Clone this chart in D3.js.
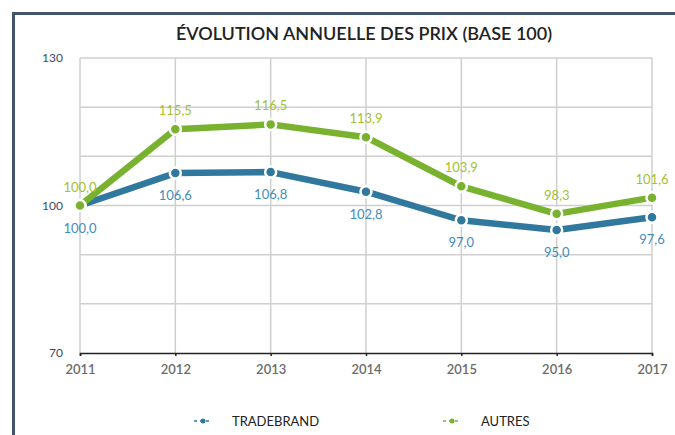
<!DOCTYPE html>
<html>
<head>
<meta charset="utf-8">
<script src="https://cdn.jsdelivr.net/npm/d3@7"></script>
<style>
  body { margin: 0; background: #ffffff; }
  svg { display: block; font-family: Lato, "Open Sans", sans-serif; }
</style>
</head>
<body>
<div id="chart"></div>
<script>
// Chart values.
var years = ["2011", "2012", "2013", "2014", "2015", "2016", "2017"];
var tradebrand = [100.0, 106.6, 106.8, 102.8, 97.0, 95.0, 97.6];
var autres = [100.0, 115.5, 116.5, 113.9, 103.9, 98.3, 101.6];
var yTicks = [70, 100, 130];
var seriesNames = ["TRADEBRAND", "AUTRES"];

var width = 675, height = 435;
var blue = "#31789e", blueLabel = "#3f8dbd";
var green = "#78b22f", greenLabel = "#a3c132";

var svg = d3.select("#chart").append("svg")
  .attr("width", width)
  .attr("height", height);

// 0. Frame (dark border top and left).
svg.append("path")
  .attr("d", "M13.5," + height + "V13.5H" + width)
  .attr("fill", "none")
  .attr("stroke", "#44546a")
  .attr("stroke-width", 3);

// 1. Title.
svg.append("text")
  .attr("x", 364)
  .attr("y", 40)
  .attr("text-anchor", "middle")
  .attr("font-size", 18)
  .attr("font-weight", 600)
  .attr("fill", "#222")
  .text("ÉVOLUTION ANNUELLE DES PRIX (BASE 100)");

// 2. Scales.
var xScale = d3.scalePoint().domain(years).range([80, 652]);
var yScale = d3.scaleLinear().domain([70, 130]).range([353, 58]);

// 3. Grid.
svg.append("g").selectAll("line").data(d3.range(80, 131, 10))
  .enter().append("line")
  .attr("x1", 80).attr("x2", 652)
  .attr("y1", function (d) { return yScale(d); })
  .attr("y2", function (d) { return yScale(d); })
  .attr("stroke", "#cfcfcf").attr("stroke-width", 1.5);
svg.append("g").selectAll("line").data(years)
  .enter().append("line")
  .attr("x1", function (d) { return xScale(d); })
  .attr("x2", function (d) { return xScale(d); })
  .attr("y1", 58).attr("y2", 353)
  .attr("stroke", "#cfcfcf").attr("stroke-width", 1.5);

// 4. Axes.
var xAxis = svg.append("g")
  .attr("transform", "translate(0,353)")
  .call(d3.axisBottom(xScale).tickSize(3).tickPadding(9));
xAxis.select(".domain").attr("stroke", "#222").attr("stroke-width", 1.5);
xAxis.selectAll(".tick line").attr("stroke", "#222").attr("stroke-width", 1.5);
xAxis.selectAll("text")
  .attr("font-size", 13).attr("font-weight", 600)
  .attr("font-family", "Lato, sans-serif").attr("fill", "#6b6b6b");

var yAxis = svg.append("g")
  .attr("transform", "translate(80,0)")
  .call(d3.axisLeft(yScale).tickValues(yTicks).tickSize(0).tickPadding(17));
yAxis.select(".domain").remove();
yAxis.selectAll("text")
  .attr("font-size", 12).attr("font-family", "Lato, sans-serif")
  .attr("fill", "#3b4a66");

// 5. Lines, markers and labels.
function drawSeries(values, color, labelColor, labelDy) {
  var pts = values.map(function (v, i) { return { year: years[i], value: v }; });
  var line = d3.line()
    .x(function (d) { return xScale(d.year); })
    .y(function (d) { return yScale(d.value); });
  svg.append("path").datum(pts)
    .attr("d", line)
    .attr("fill", "none")
    .attr("stroke", color)
    .attr("stroke-width", 6.5)
    .attr("stroke-linejoin", "round");
  svg.append("g").selectAll("circle").data(pts)
    .enter().append("circle")
    .attr("cx", function (d) { return xScale(d.year); })
    .attr("cy", function (d) { return yScale(d.value); })
    .attr("r", 5.5)
    .attr("fill", color)
    .attr("stroke", "#ffffff")
    .attr("stroke-width", 2.5);
  svg.append("g").selectAll("text").data(pts)
    .enter().append("text")
    .attr("x", function (d) { return xScale(d.year); })
    .attr("y", function (d) { return yScale(d.value) + labelDy; })
    .attr("text-anchor", "middle")
    .attr("font-size", 13)
    .attr("fill", labelColor)
    .text(function (d) { return d.value.toFixed(1).replace(".", ","); });
}
drawSeries(tradebrand, blue, blueLabel, 27);
drawSeries(autres, green, greenLabel, -14);

// 6. Legend.
var legendX = [203, 452];
var legendColors = [blue, green];
var legend = svg.append("g").selectAll("g").data(seriesNames)
  .enter().append("g")
  .attr("transform", function (d, i) { return "translate(" + legendX[i] + ",421)"; });
legend.append("line")
  .attr("x1", -9).attr("x2", 9)
  .attr("stroke", function (d, i) { return legendColors[i]; })
  .attr("stroke-width", 1.5)
  .attr("stroke-dasharray", "3,3");
legend.append("circle")
  .attr("r", 2.5)
  .attr("fill", function (d, i) { return legendColors[i]; });
legend.append("text")
  .attr("x", 29)
  .attr("y", 4.5)
  .attr("font-size", 13)
  .attr("fill", "#222")
  .text(function (d) { return d; });
</script>
</body>
</html>
